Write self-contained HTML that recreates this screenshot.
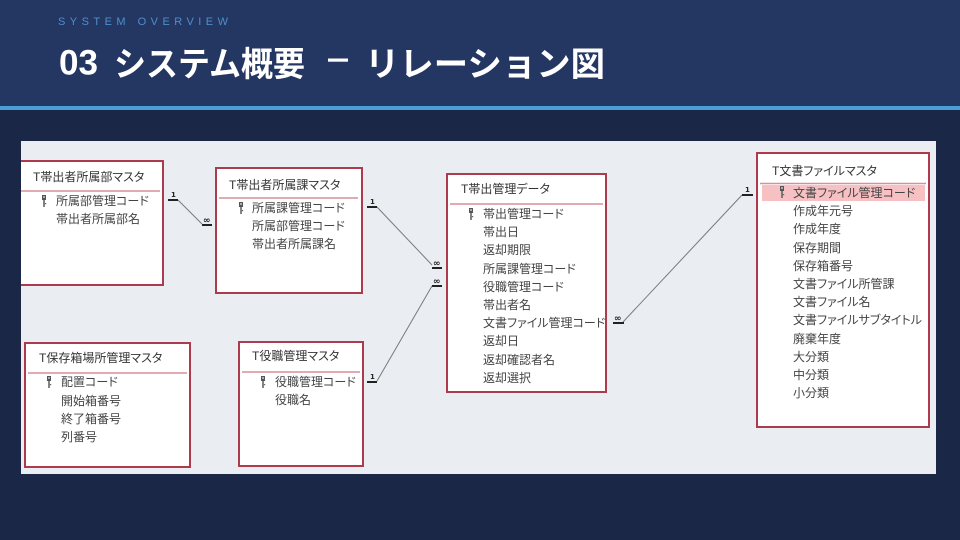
<!DOCTYPE html>
<html><head><meta charset="utf-8">
<style>
html,body{margin:0;padding:0;background:#1b2746;}
svg{display:block;}
.t{font-family:"Liberation Sans","Noto Sans CJK JP",sans-serif;font-size:12px;fill:#333;font-feature-settings:"palt";}
.f{font-family:"Liberation Sans","Noto Sans CJK JP",sans-serif;font-size:12px;fill:#444;font-feature-settings:"palt";}
.one{font-family:"DejaVu Sans",sans-serif;font-size:7px;font-weight:bold;fill:#222;}
.inf{font-family:"DejaVu Sans",sans-serif;font-size:9px;font-weight:bold;fill:#222;}
</style></head>
<body>
<svg width="960" height="540" viewBox="0 0 960 540" xmlns="http://www.w3.org/2000/svg">
<defs>
<clipPath id="pc"><rect x="21" y="141" width="915" height="333"/></clipPath>
<g id="key">
<rect x="0" y="0" width="4" height="5" fill="#555"/>
<rect x="1.2" y="1.2" width="1.6" height="1.6" fill="#ddd"/>
<rect x="1.2" y="5" width="1.6" height="7" fill="#666"/>
<rect x="2.8" y="8" width="1.4" height="1.2" fill="#666"/>
</g>
</defs>
<!-- header -->
<rect x="0" y="0" width="960" height="106" fill="#243662"/>
<rect x="0" y="106" width="960" height="4" fill="#4a9fd9"/>
<rect x="0" y="110" width="960" height="430" fill="#1b2746"/>
<text x="58" y="25" font-family="Liberation Sans, sans-serif" font-size="11" fill="#4f8fcc" textLength="170" lengthAdjust="spacing">SYSTEM OVERVIEW</text>
<g font-family="Liberation Sans, Noto Sans CJK JP, sans-serif" font-weight="bold" fill="#ffffff">
<text x="59" y="74.5" font-size="35" textLength="39" lengthAdjust="spacingAndGlyphs">03</text>
<text x="114" y="76" font-size="34" textLength="191" lengthAdjust="spacingAndGlyphs">システム概要</text>
<rect x="328" y="58.5" width="20" height="3.2" fill="#ffffff"/>
<text x="365" y="76" font-size="34" textLength="240" lengthAdjust="spacingAndGlyphs">リレーション図</text>
</g>
<!-- panel -->
<rect x="21" y="141" width="915" height="333" fill="#eaedf1"/>
<g clip-path="url(#pc)">
<!-- connectors -->
<g stroke="#7a7a7a" stroke-width="1" fill="none">
<line x1="178" y1="200" x2="202" y2="224"/>
<line x1="377" y1="207" x2="432" y2="265"/>
<line x1="377" y1="381" x2="432" y2="286"/>
<line x1="623" y1="322" x2="742" y2="195"/>
</g>
<g stroke="#222" stroke-width="2">
<line x1="168" y1="200" x2="178" y2="200"/>
<line x1="202" y1="225" x2="212" y2="225"/>
<line x1="367" y1="207" x2="377" y2="207"/>
<line x1="432" y1="268" x2="442" y2="268"/>
<line x1="367" y1="382" x2="377" y2="382"/>
<line x1="432" y1="286" x2="442" y2="286"/>
<line x1="613" y1="323" x2="624" y2="323"/>
<line x1="742" y1="195" x2="753" y2="195"/>
</g>
<text class="one" x="171" y="197">1</text>
<text class="inf" x="203" y="223">∞</text>
<text class="one" x="370" y="204">1</text>
<text class="inf" x="433" y="266">∞</text>
<text class="one" x="370" y="379">1</text>
<text class="inf" x="433" y="284">∞</text>
<text class="inf" x="614" y="321">∞</text>
<text class="one" x="745" y="192">1</text>

<!-- boxes -->
<g fill="#fff" stroke="#ad3a4d" stroke-width="2">
<rect x="12" y="161" width="151" height="124"/>
<rect x="216" y="168" width="146" height="125"/>
<rect x="25" y="343" width="165" height="124"/>
<rect x="239" y="342" width="124" height="124"/>
<rect x="447" y="174" width="159" height="218"/>
<rect x="757" y="153" width="172" height="274"/>
</g>
<g stroke="#d98f99" stroke-width="1.5">
<line x1="21" y1="191" x2="160" y2="191"/>
<line x1="219" y1="198" x2="358" y2="198"/>
<line x1="28" y1="373" x2="187" y2="373"/>
<line x1="242" y1="372" x2="360" y2="372"/>
<line x1="450" y1="204" x2="603" y2="204"/>
<line x1="760" y1="183.5" x2="926" y2="183.5"/>
</g>
<rect x="762" y="185" width="163" height="16" fill="#f7c1c4"/>

<!-- B1 -->
<text class="t" x="33" y="181">T帯出者所属部マスタ</text>
<use href="#key" x="42" y="195"/>
<text class="f" x="56" y="205">所属部管理コード</text>
<text class="f" x="56" y="223">帯出者所属部名</text>
<!-- B2 -->
<text class="t" x="229" y="189">T帯出者所属課マスタ</text>
<use href="#key" x="239" y="202"/>
<text class="f" x="252" y="212">所属課管理コード</text>
<text class="f" x="252" y="230">所属部管理コード</text>
<text class="f" x="252" y="248">帯出者所属課名</text>
<!-- B3 -->
<text class="t" x="39" y="362">T保存箱場所管理マスタ</text>
<use href="#key" x="47" y="376"/>
<text class="f" x="61" y="386">配置コード</text>
<text class="f" x="61" y="405">開始箱番号</text>
<text class="f" x="61" y="423">終了箱番号</text>
<text class="f" x="61" y="441">列番号</text>
<!-- B4 -->
<text class="t" x="252" y="360">T役職管理マスタ</text>
<use href="#key" x="261" y="376"/>
<text class="f" x="275" y="386">役職管理コード</text>
<text class="f" x="275" y="404">役職名</text>
<!-- B5 -->
<text class="t" x="461" y="193">T帯出管理データ</text>
<use href="#key" x="469" y="208"/>
<text class="f" x="483" y="218">帯出管理コード</text>
<text class="f" x="483" y="236">帯出日</text>
<text class="f" x="483" y="254">返却期限</text>
<text class="f" x="483" y="273">所属課管理コード</text>
<text class="f" x="483" y="291">役職管理コード</text>
<text class="f" x="483" y="309">帯出者名</text>
<text class="f" x="483" y="327">文書ファイル管理コード</text>
<text class="f" x="483" y="345">返却日</text>
<text class="f" x="483" y="364">返却確認者名</text>
<text class="f" x="483" y="382">返却選択</text>
<!-- B6 -->
<text class="t" x="772" y="175">T文書ファイルマスタ</text>
<use href="#key" x="780" y="186"/>
<text class="f" x="793" y="197">文書ファイル管理コード</text>
<text class="f" x="793" y="215">作成年元号</text>
<text class="f" x="793" y="233">作成年度</text>
<text class="f" x="793" y="252">保存期間</text>
<text class="f" x="793" y="270">保存箱番号</text>
<text class="f" x="793" y="288">文書ファイル所管課</text>
<text class="f" x="793" y="306">文書ファイル名</text>
<text class="f" x="793" y="324">文書ファイルサブタイトル</text>
<text class="f" x="793" y="343">廃棄年度</text>
<text class="f" x="793" y="361">大分類</text>
<text class="f" x="793" y="379">中分類</text>
<text class="f" x="793" y="397">小分類</text>
</g>
</svg>
</body></html>
